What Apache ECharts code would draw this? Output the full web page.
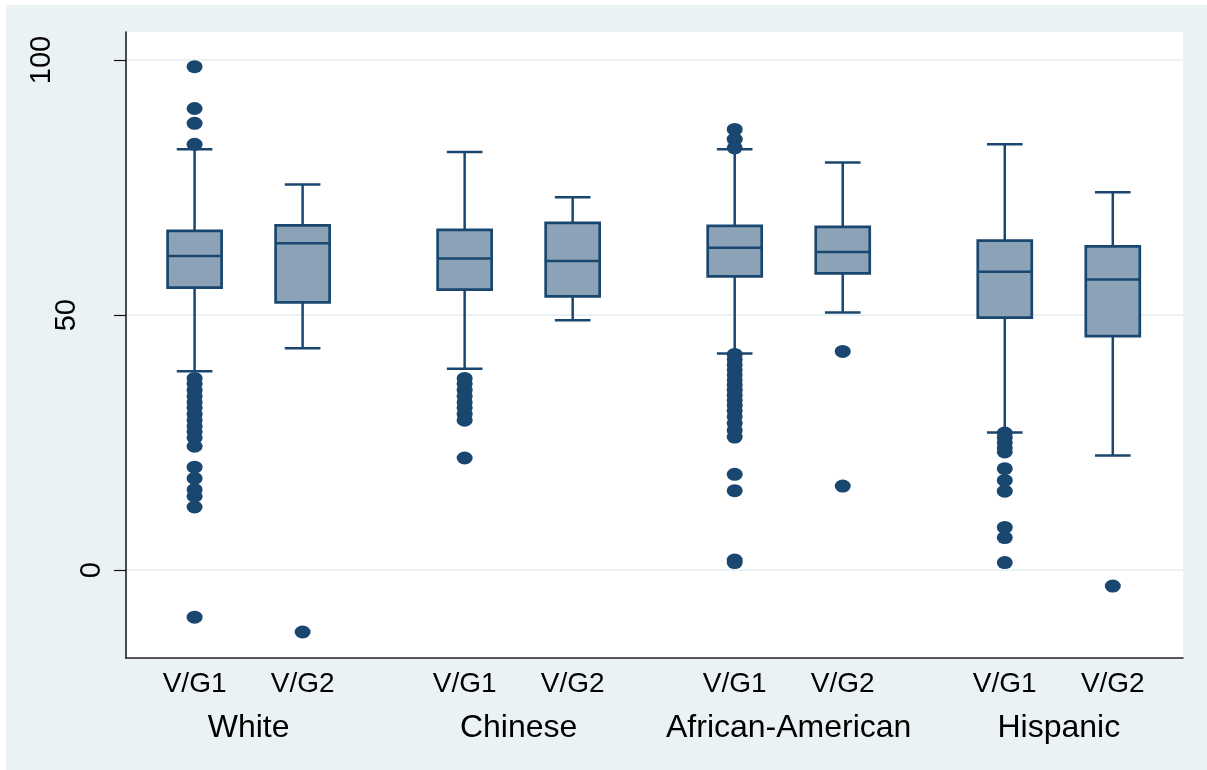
<!DOCTYPE html>
<html>
<head>
<meta charset="utf-8">
<script src="https://cdn.jsdelivr.net/npm/echarts@6/dist/echarts.min.js"></script>
<style>
  html, body { margin: 0; padding: 0; background: #ffffff; }
  #chart { position: absolute; left: 6px; top: 5px; width: 1201px; height: 765px; background: #eaf2f3; }
</style>
</head>
<body>
<div id="chart"></div>
<script>
// ---------- data ----------
const groups = ['White', 'Chinese', 'African-American', 'Hispanic'];
const visits = ['V/G1', 'V/G2'];
// box order: White V/G1, White V/G2, Chinese V/G1, Chinese V/G2, AA V/G1, AA V/G2, Hispanic V/G1, Hispanic V/G2
const whiskerLow  = [39.0, 43.5, 39.5, 49.0, 42.5, 50.5, 27.0, 22.5];
const quartile1   = [55.4, 52.5, 55.0, 53.7, 57.6, 58.2, 49.5, 45.9];
const medians     = [61.6, 64.1, 61.1, 60.6, 63.2, 62.4, 58.5, 57.0];
const quartile3   = [66.5, 67.6, 66.7, 68.1, 67.5, 67.3, 64.6, 63.5];
const whiskerHigh = [82.5, 75.6, 82.0, 73.1, 82.5, 79.9, 83.5, 74.1];
const outliersWhite1 = [98.7, 90.5, 87.6, 83.5, 37.6, 36.5, 35.3, 34.1, 32.9, 31.8, 30.6, 29.4, 28.2, 27.1, 25.9, 24.3, 20.2, 18.0, 15.8, 14.5, 12.4, -9.2];
const outliersWhite2 = [-12.1];
const outliersChinese1 = [37.6, 36.5, 35.3, 34.1, 32.9, 31.8, 30.6, 29.4, 22.0];
const outliersChinese2 = [];
const outliersAA1 = [86.4, 84.5, 82.8, 42.3, 41.3, 40.3, 39.3, 38.3, 37.3, 36.3, 35.3, 34.3, 33.3, 32.3, 31.2, 30.1, 28.8, 27.4, 26.1, 18.8, 15.6, 2.0, 1.5];
const outliersAA2 = [42.9, 16.5];
const outliersHispanic1 = [26.9, 26.0, 25.0, 24.0, 23.2, 19.9, 17.6, 15.5, 8.4, 6.4, 1.5];
const outliersHispanic2 = [-3.1];
const yTicks = [0, 50, 100];

// ---------- layout ----------
const groupStep = 5, visitStep = 2;
const outlierLists = [outliersWhite1, outliersWhite2, outliersChinese1, outliersChinese2,
                      outliersAA1, outliersAA2, outliersHispanic1, outliersHispanic2];
const boxPos = [];
const boxLabel = {};
groups.forEach((g, gi) => visits.forEach((v, vi) => {
  const p = gi * groupStep + vi * visitStep;
  boxPos.push(p);
  boxLabel[p] = v;
}));
const groupPos = groups.map((g, gi) => gi * groupStep + visitStep / 2);
const groupLabel = {};
groups.forEach((g, gi) => { groupLabel[groupPos[gi]] = g; });

const boxData = boxPos.map((p, i) => [p, whiskerLow[i], quartile1[i], medians[i], quartile3[i], whiskerHigh[i]]);
const outlierData = [];
outlierLists.forEach((list, i) => list.forEach(v => outlierData.push([boxPos[i], v])));

const NAVY = '#1a476f';
const FILL = '#8ca3b7';
const FONT = 'Liberation Sans, Arial, sans-serif';

const chart = echarts.init(document.getElementById('chart'));
chart.setOption({
  backgroundColor: 'transparent',
  animation: false,
  grid: { left: 120, top: 27, right: 24, bottom: 112, show: true, backgroundColor: '#ffffff', borderWidth: 0 },
  xAxis: [{
    type: 'value', min: -1.27, max: 18.3,
    axisLine: { show: true, onZero: false, lineStyle: { color: '#222', width: 1.5 } },
    axisTick: { show: false },
    splitLine: { show: false },
    axisLabel: {
      customValues: boxPos, margin: 12, fontSize: 28, fontFamily: FONT, color: '#000',
      formatter: v => boxLabel[v] || ''
    }
  }, {
    type: 'value', min: -1.27, max: 18.3, position: 'bottom',
    axisLine: { show: false, onZero: false }, axisTick: { show: false }, splitLine: { show: false },
    axisLabel: {
      customValues: groupPos, margin: 54, fontSize: 32, fontFamily: FONT, color: '#000',
      formatter: v => groupLabel[v] || ''
    }
  }],
  yAxis: {
    type: 'value', min: -17.2, max: 105.5,
    axisLine: { show: true, onZero: false, lineStyle: { color: '#111', width: 1.5 } },
    axisTick: { show: true, customValues: yTicks, length: 12, lineStyle: { color: '#111', width: 1.2 } },
    splitLine: { show: true, lineStyle: { color: '#eaf2f3', width: 2 } },
    axisLabel: {
      customValues: yTicks, rotate: 90, margin: 20, fontSize: 29, fontFamily: FONT, color: '#000',
      formatter: v => '{t' + v + '|' + v + '}',
      rich: {
        t0: { fontSize: 29, fontFamily: FONT, padding: [0, 0, 0, 0] },
        t50: { fontSize: 29, fontFamily: FONT, padding: [0, 0, 25, 0] },
        t100: { fontSize: 29, fontFamily: FONT, padding: [0, 0, 50, 0] }
      }
    }
  },
  series: [{
    type: 'custom',
    xAxisIndex: 0,
    data: boxData,
    z: 2,
    renderItem: function (params, api) {
      const x = api.value(0);
      const lo = api.coord([x, api.value(1)]);
      const q1 = api.coord([x, api.value(2)]);
      const md = api.coord([x, api.value(3)]);
      const q3 = api.coord([x, api.value(4)]);
      const hi = api.coord([x, api.value(5)]);
      const bw = api.size([1, 0])[0];
      const half = bw / 2, cap = bw * 0.33;
      const ls = { stroke: NAVY, lineWidth: 2.5 };
      return {
        type: 'group',
        children: [
          { type: 'line', shape: { x1: lo[0], y1: lo[1], x2: q1[0], y2: q1[1] }, style: ls },
          { type: 'line', shape: { x1: q3[0], y1: q3[1], x2: hi[0], y2: hi[1] }, style: ls },
          { type: 'line', shape: { x1: lo[0] - cap, y1: lo[1], x2: lo[0] + cap, y2: lo[1] }, style: ls },
          { type: 'line', shape: { x1: hi[0] - cap, y1: hi[1], x2: hi[0] + cap, y2: hi[1] }, style: ls },
          { type: 'rect', shape: { x: q3[0] - half, y: q3[1], width: bw, height: q1[1] - q3[1] },
            style: { fill: FILL, stroke: NAVY, lineWidth: 2.7 } },
          { type: 'line', shape: { x1: md[0] - half, y1: md[1], x2: md[0] + half, y2: md[1] }, style: ls }
        ]
      };
    }
  }, {
    type: 'scatter',
    xAxisIndex: 0,
    data: outlierData,
    symbol: 'circle',
    symbolSize: [16, 13],
    itemStyle: { color: NAVY, opacity: 1 },
    z: 3
  }]
});
</script>
</body>
</html>
